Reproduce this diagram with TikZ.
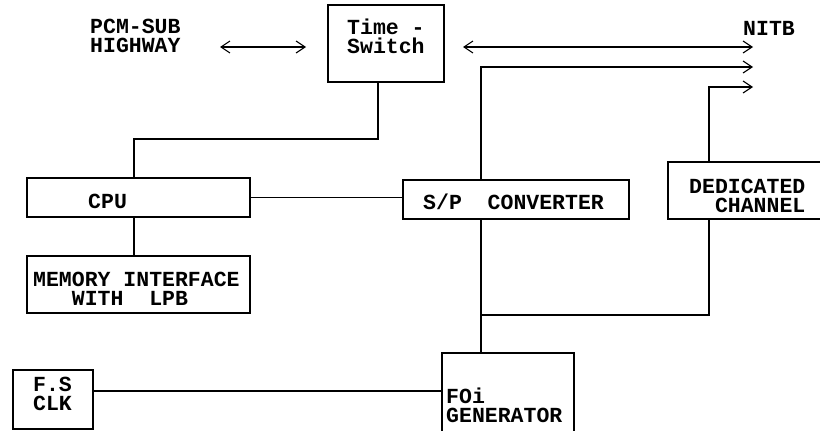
\documentclass[tikz,border=0pt]{standalone}
\usepackage{fontspec}
\newfontfamily\dotfont{Liberation Mono}
\usetikzlibrary{arrows.meta}
\tikzset{
  x=1pt, y=-1pt,
  wire/.style={line width=1.1pt, line cap=round, line join=miter},
  blk/.style={draw, line width=1.1pt, inner sep=0pt, minimum width=#1},
  lbl/.style={anchor=base west, inner sep=0pt, align=left, font=\dotfont\bfseries\fontsize{21.5}{19}\selectfont},
  chev/.style={-{Straight Barb[length=9pt,width=12pt,line width=1.1pt]}},
  dchev/.style={{Straight Barb[length=9pt,width=12pt,line width=1.1pt]}-{Straight Barb[length=9pt,width=12pt,line width=1.1pt]}}
}
\begin{document}
\begin{tikzpicture}
\useasboundingbox (0,0) rectangle (820,431);
% boxes
\node[blk=116pt, minimum height=77pt] (ts) at (386,43.5) {};
\node[blk=223pt, minimum height=39pt] (cpu) at (138.5,197.5) {};
\node[blk=223pt, minimum height=57pt] (mem) at (138.5,284.5) {};
\node[blk=226pt, minimum height=39pt] (sp) at (516,199.5) {};
\node[blk=156pt, minimum height=57pt] (dc) at (746,190.5) {};
\node[blk=80pt, minimum height=59pt] (fs) at (53,399.5) {};
\node[blk=132pt, minimum height=80pt] (foi) at (508,393) {};
% texts (base = baseline of the last line)
\node[lbl] (t1) at (90,52) {PCM-SUB\\HIGHWAY};
\node[lbl] (t3) at (347,53) {Time -\\Switch};
\node[lbl] (t5) at (743,35) {NITB};
\node[lbl] (t6) at (88,208) {CPU};
\node[lbl] (t7) at (423,209) {S/P\ \ CONVERTER};
\node[lbl] (t8) at (689,212) {DEDICATED\\\ \ CHANNEL};
\node[lbl] (t10) at (33,305) {MEMORY INTERFACE\\\ \ \ WITH\ \ LPB};
\node[lbl] (t12) at (33,410) {F.S\\CLK};
\node[lbl] (t14) at (446,422) {FOi\\GENERATOR};
% helper coordinates
\coordinate (colTS) at (378,0);
\coordinate (colCPU) at (134,0);
\coordinate (colSP) at (481,0);
\coordinate (colDC) at (709,0);
\coordinate (rowT) at (0,139);
\coordinate (rowJ) at (0,315);
\coordinate (rowF) at (0,391);
\coordinate (pcmL) at (220,47);
\coordinate (pcmR) at (306,47);
\coordinate (in1) at (463,47);
\coordinate (out1) at (753,47);
\coordinate (out2) at (753,67);
\coordinate (out3) at (753,87);
% connectors
\draw[wire, dchev] (pcmL) -- (pcmR);
\draw[wire, dchev] (in1) -- (out1);
\draw[wire, chev] (sp.north -| colSP) |- (out2);
\draw[wire, chev] (dc.north -| colDC) |- (out3);
\draw[wire] (ts.south -| colTS) -- (colTS |- rowT) -- (colCPU |- rowT) -- (cpu.north -| colCPU);
\draw[wire] (cpu.east) -- (cpu.east -| sp.west);
\draw[wire] (cpu.south -| colCPU) -- (mem.north -| colCPU);
\draw[wire] (sp.south -| colSP) -- (foi.north -| colSP);
\draw[wire] (colSP |- rowJ) -- (colDC |- rowJ) -- (dc.south -| colDC);
\draw[wire] (fs.east |- rowF) -- (foi.west |- rowF);
\end{tikzpicture}
\end{document}
